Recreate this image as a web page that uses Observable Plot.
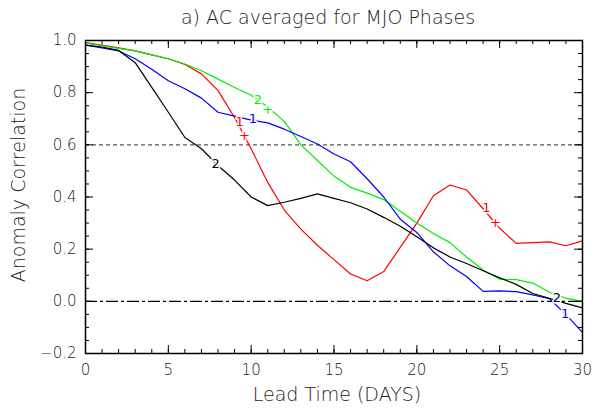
<!DOCTYPE html>
<html><head><meta charset="utf-8">
<script src="https://cdn.jsdelivr.net/npm/d3@7"></script>
<script src="https://cdn.jsdelivr.net/npm/@observablehq/plot@0.6"></script>
<style>
body{margin:0;background:#fff}
svg{font-family:"DejaVu Sans",sans-serif;font-weight:200}
</style>
</head><body><div id="chart"></div>
<script>
// Lead time (days)
const days = [0,1,2,3,4,5,6,7,8,9,10,11,12,13,14,15,16,17,18,19,20,21,22,23,24,25,26,27,28,29,30];
// Anomaly correlation per series
const acRed   = [0.992,0.982,0.972,0.960,0.945,0.930,0.908,0.872,0.808,0.705,0.585,0.456,0.350,0.277,0.215,0.160,0.105,0.079,0.114,0.207,0.300,0.405,0.446,0.427,0.355,0.280,0.222,0.225,0.228,0.213,0.232];
const acGreen = [0.990,0.980,0.970,0.960,0.945,0.930,0.910,0.884,0.852,0.820,0.790,0.745,0.690,0.600,0.540,0.480,0.437,0.415,0.390,0.345,0.300,0.260,0.225,0.170,0.120,0.085,0.083,0.070,0.035,0.012,0.000];
const acBlue  = [0.982,0.972,0.960,0.930,0.890,0.846,0.815,0.779,0.725,0.710,0.695,0.684,0.660,0.632,0.603,0.565,0.535,0.470,0.400,0.315,0.264,0.190,0.136,0.095,0.038,0.040,0.037,0.025,0.010,-0.050,-0.120];
const acBlack = [0.982,0.975,0.962,0.915,0.820,0.725,0.628,0.585,0.520,0.465,0.400,0.367,0.380,0.395,0.412,0.395,0.378,0.354,0.322,0.288,0.248,0.205,0.170,0.145,0.117,0.090,0.065,0.030,0.012,-0.008,-0.025];

const seriesNames  = ["s1","s2","s3","s4"];
const seriesColors = ["#ff0000","#00ee00","#0000ff","#000000"];
const seriesValues = [acRed, acGreen, acBlue, acBlack];

// Inline line labels (text, day, value, series)
const labelText   = ["2","2","+","1","1","+","1","+","2","1"];
const labelDay    = [7.85,10.4,11.0,10.1,9.3,9.6,24.2,24.75,28.45,28.95];
const labelValue  = [0.527,0.772,0.735,0.70,0.69,0.635,0.357,0.30,0.012,-0.047];
const labelSeries = ["s4","s2","s2","s3","s1","s1","s1","s1","s4","s3"];

const xMajor = [0,5,10,15,20,25,30];
const xMinor = days;
const yMajor = [-0.2,0,0.2,0.4,0.6,0.8,1.0];
const yMinor = [-0.2,-0.15,-0.1,-0.05,0,0.05,0.1,0.15,0.2,0.25,0.3,0.35,0.4,0.45,0.5,0.55,0.6,0.65,0.7,0.75,0.8,0.85,0.9,0.95,1.0];

const table = [];
seriesNames.forEach((s, k) => days.forEach((d, i) => table.push({series: s, day: d, ac: seriesValues[k][i]})));
const labels = labelText.map((t, i) => ({text: t, day: labelDay[i], ac: labelValue[i], series: labelSeries[i]}));

const fmtY = d => d < 0 ? "\u2212" + Math.abs(d).toFixed(1) : d.toFixed(1);

const W = 593, H = 410, ML = 85, MR = 11, MT = 40, MB = 57;
const PW = W - ML - MR, PH = H - MT - MB;
const tickStyle = {stroke: "#000", strokeWidth: 1};

const chart = Plot.plot({
  width: W, height: H,
  marginLeft: ML, marginRight: MR, marginTop: MT, marginBottom: MB,
  x: {domain: [0, 30], axis: null},
  y: {domain: [-0.2, 1.0], axis: null},
  color: {domain: seriesNames, range: seriesColors},
  style: {fontSize: "15px", color: "#222", background: "white"},
  marks: [
    Plot.ruleY([0.6], {stroke: "#555", strokeDasharray: "4,3", strokeWidth: 1.3}),
    Plot.ruleY([0], {stroke: "#000", strokeDasharray: "12,3,3,3", strokeWidth: 1.1}),
    Plot.line(table, {x: "day", y: "ac", z: "series", stroke: "series", strokeWidth: 1.2}),
    Plot.text(labels, {x: "day", y: "ac", text: "text", fill: "series", stroke: "white", strokeWidth: 3, fontSize: 13, fontWeight: 400}),
    // inward ticks, all four sides
    Plot.tickX(xMinor, {x: d => d, insetTop: PH - 4, ...tickStyle}),
    Plot.tickX(xMajor, {x: d => d, insetTop: PH - 8, ...tickStyle}),
    Plot.tickX(xMinor, {x: d => d, insetBottom: PH - 4, ...tickStyle}),
    Plot.tickX(xMajor, {x: d => d, insetBottom: PH - 8, ...tickStyle}),
    Plot.tickY(yMinor, {y: d => d, insetRight: PW - 4, ...tickStyle}),
    Plot.tickY(yMajor, {y: d => d, insetRight: PW - 8, ...tickStyle}),
    Plot.tickY(yMinor, {y: d => d, insetLeft: PW - 4, ...tickStyle}),
    Plot.tickY(yMajor, {y: d => d, insetLeft: PW - 8, ...tickStyle}),
    // tick labels
    Plot.axisX(xMajor, {anchor: "bottom", tickSize: 0, tickPadding: 11, tickFormat: d => String(d), label: null, fontSize: 15}),
    Plot.axisY(yMajor, {anchor: "left", tickSize: 0, tickPadding: 9, tickFormat: fmtY, label: null, fontSize: 15}),
    Plot.frame({stroke: "#000", strokeWidth: 1.5}),
    // titles
    Plot.text(["a) AC averaged for MJO Phases"], {frameAnchor: "top", lineAnchor: "middle", dx: -6, dy: -23, fontSize: 19, fill: "#222", letterSpacing: 2.8}),
    Plot.text(["Lead Time (DAYS)"], {frameAnchor: "bottom", lineAnchor: "middle", dx: 3, dy: 41, fontSize: 19, fill: "#222", letterSpacing: 2.4}),
    Plot.text(["Anomaly Correlation"], {frameAnchor: "left", textAnchor: "middle", lineAnchor: "middle", dx: -67, dy: -12, rotate: -90, fontSize: 19, fill: "#222", letterSpacing: 2})
  ]
});
document.getElementById("chart").appendChild(chart);
</script>
</body></html>
